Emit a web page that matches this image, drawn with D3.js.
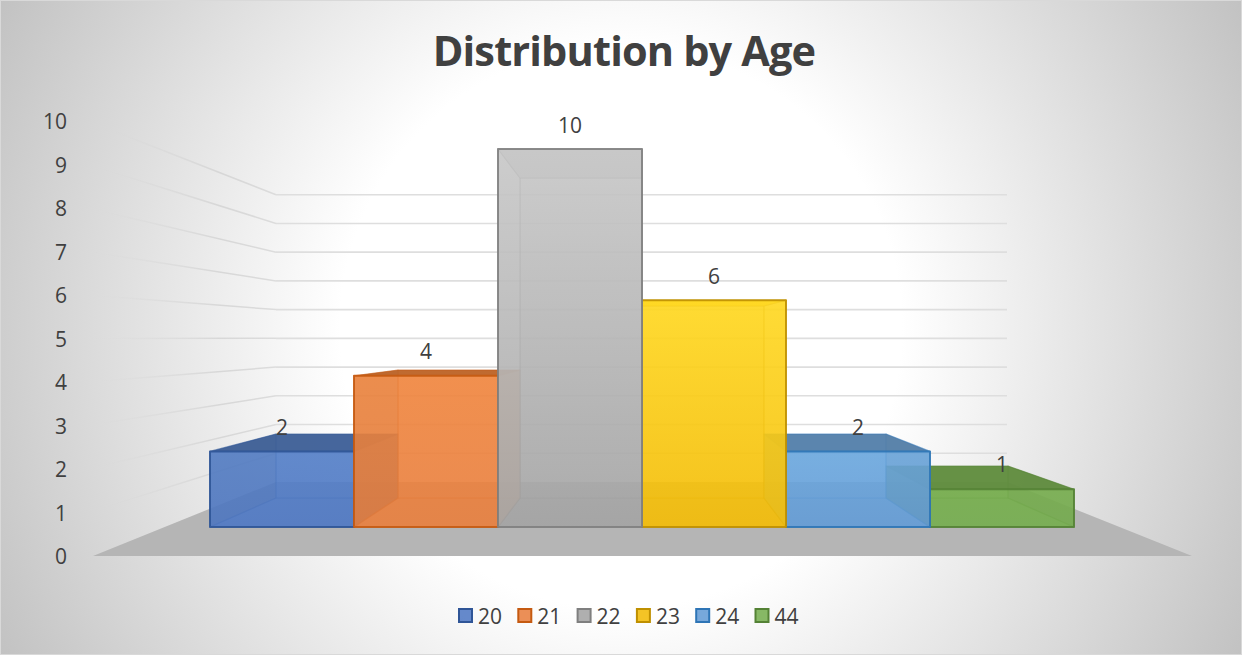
<!DOCTYPE html>
<html>
<head>
	<meta charset="utf-8">
	<script src="https://cdn.jsdelivr.net/npm/d3@7"></script>
	<style type="text/css">
		body { margin: 0; padding: 0; background: white; }
		svg { display: block; }
		text { font-family: "Open Sans", sans-serif; fill: #404040; }
	</style>
</head>
<body>
	<script type="text/javascript">

		// chart values
		var ages = ["20", "21", "22", "23", "24", "44"];
		var counts = [2, 4, 10, 6, 2, 1];
		var axisTicks = [0, 1, 2, 3, 4, 5, 6, 7, 8, 9, 10];
		var title = "Distribution by Age";

		// face colours of each bar
		var faceTop = ["#5580c8", "#f0863f", "#c8c8c8", "#ffd821", "#6ca8de", "#78b04e"];
		var faceBottom = ["#5079c4", "#e88040", "#a4a4a4", "#f3bc08", "#649cd6", "#76ae50"];
		var edge = ["#2f5597", "#c55a11", "#7f7f7f", "#bf9000", "#2e75b6", "#548235"];
		var capFill = ["#3f5f96", "#bb6428", "#c4c4c4", "#ffd822", "#557fa8", "#618c3f"];

		var width = 1242, height = 655;

		var svg = d3.select("body").append("svg")
			.attr("width", width)
			.attr("height", height);

		var defs = svg.append("defs");

		// background
		var bg = defs.append("radialGradient").attr("id", "bg")
			.attr("gradientUnits", "userSpaceOnUse")
			.attr("cx", width / 2).attr("cy", height / 2).attr("r", 702);
		bg.append("stop").attr("offset", "0.4").attr("stop-color", "#ffffff");
		bg.append("stop").attr("offset", "1").attr("stop-color", "#c2c2c2");

		svg.append("rect")
			.attr("x", 0.5).attr("y", 0.5)
			.attr("width", width - 1).attr("height", height - 1)
			.attr("fill", "url(#bg)")
			.attr("stroke", "#d9d9d9");

		// scales for the walls of the box
		var wallFront = d3.scaleLinear().domain([0, 10]).range([556, 121]);
		var wallBack = d3.scaleLinear().domain([0, 10]).range([482, 194.7]);

		// scales for the bars, front plane and back plane
		var xFront = d3.scaleBand().domain(ages).range([210, 1074]);
		var xBack = d3.scaleBand().domain(ages).range([276, 1008]);
		var yFront = d3.scaleLinear().domain([0, 10]).range([527, 149]);
		var yBack = d3.scaleLinear().domain([0, 10]).range([498, 178]);
		var yLabel = d3.scaleLinear().domain([0, 10]).range([502, 124.5]);

		// floor
		svg.append("polygon")
			.attr("points", [[93, wallFront(0)], [1192, wallFront(0)], [1007, wallBack(0)], [276, wallBack(0)]].join(" "))
			.attr("fill", "#b5b5b5");

		// fade for the gridlines on the left wall
		var fade = defs.append("linearGradient").attr("id", "fade")
			.attr("gradientUnits", "userSpaceOnUse")
			.attr("x1", 88).attr("x2", 276).attr("y1", 0).attr("y2", 0);
		fade.append("stop").attr("offset", "0").attr("stop-color", "#d9d9d9").attr("stop-opacity", 0);
		fade.append("stop").attr("offset", "0.7").attr("stop-color", "#d2d2d2").attr("stop-opacity", 0.8);
		fade.append("stop").attr("offset", "1").attr("stop-color", "#dcdcdc");

		// gridlines
		var grid = svg.append("g");
		grid.selectAll(".wall").data(axisTicks.slice(1)).enter().append("line")
			.attr("x1", 88).attr("y1", function(d){ return wallFront(d); })
			.attr("x2", 276).attr("y2", function(d){ return wallBack(d); })
			.attr("stroke", "url(#fade)")
			.attr("stroke-width", 1.5);
		grid.selectAll(".back").data(axisTicks.slice(1)).enter().append("line")
			.attr("x1", 276).attr("y1", function(d){ return wallBack(d); })
			.attr("x2", 1007).attr("y2", function(d){ return wallBack(d); })
			.attr("stroke", "#dedede")
			.attr("stroke-width", 1.6);

		// axis labels
		svg.append("g").selectAll("text").data(axisTicks).enter().append("text")
			.attr("x", 67)
			.attr("y", function(d){ return wallFront(d); })
			.attr("text-anchor", "end")
			.attr("dominant-baseline", "central")
			.style("font-size", "21px")
			.text(function(d){ return d; });

		// vertical gradient for front faces
		ages.forEach(function(a, i){
			var g = defs.append("linearGradient").attr("id", "front" + i)
				.attr("gradientUnits", "userSpaceOnUse")
				.attr("x1", 0).attr("x2", 0)
				.attr("y1", yFront(counts[i])).attr("y2", yFront(0));
			g.append("stop").attr("offset", "0").attr("stop-color", faceTop[i]);
			g.append("stop").attr("offset", "1").attr("stop-color", faceBottom[i]);
		});

		// one bar, back faces first
		function drawBar(i){
			var a = ages[i], v = counts[i];
			var fl = xFront(a), fr = fl + xFront.bandwidth();
			var bl = xBack(a), br = bl + xBack.bandwidth();
			var fb = yFront(0), ft = yFront(v);
			var bb = yBack(0), bt = yBack(v);
			var g = svg.append("g");

			function face(pts, fill, op, sw, so){
				g.append("polygon")
					.attr("points", pts.join(" "))
					.attr("fill", fill)
					.attr("fill-opacity", op)
					.attr("stroke", edge[i])
					.attr("stroke-opacity", so)
					.attr("stroke-width", sw)
					.attr("stroke-linejoin", "round");
			}

			// bottom, back, sides
			face([[fl, fb], [fr, fb], [br, bb], [bl, bb]], faceBottom[i], 0.6, 1.2, 0.35);
			face([[bl, bb], [br, bb], [br, bt], [bl, bt]], "url(#front" + i + ")", 0.6, 1.2, 0.35);
			face([[fl, fb], [bl, bb], [bl, bt], [fl, ft]], capFill[i], 0.55, 1.2, 0.35);
			face([[fr, fb], [br, bb], [br, bt], [fr, ft]], capFill[i], 0.55, 1.2, 0.35);
			// top
			face([[fl, ft], [fr, ft], [br, bt], [bl, bt]], capFill[i], 0.92, 1.2, 0.35);
			// front
			face([[fl, fb], [fr, fb], [fr, ft], [fl, ft]], "url(#front" + i + ")", 0.8, 2, 0.9);
		}

		// paint from the outside in, the middle bar goes last
		[0, 5, 1, 4, 3, 2].forEach(drawBar);

		// value labels
		svg.append("g").selectAll("text").data(counts).enter().append("text")
			.attr("x", function(d, i){ return xFront(ages[i]) + xFront.bandwidth() / 2; })
			.attr("y", function(d){ return yLabel(d); })
			.attr("text-anchor", "middle")
			.attr("dominant-baseline", "central")
			.style("font-size", "21px")
			.text(function(d){ return d; });

		// title
		svg.append("text")
			.attr("x", 624).attr("y", 66)
			.attr("text-anchor", "middle")
			.style("font-size", "41.5px")
			.style("font-weight", "700")
			.style("letter-spacing", "-0.85px")
			.text(title);

		// legend
		var xLegend = d3.scaleLinear().domain([0, ages.length]).range([458, 458 + 59.3 * ages.length]);
		var legend = svg.append("g").selectAll("g").data(ages).enter().append("g")
			.attr("transform", function(d, i){ return "translate(" + xLegend(i) + ",608)"; });
		legend.append("rect")
			.attr("x", 1).attr("y", 1)
			.attr("width", 13).attr("height", 13)
			.attr("fill", function(d, i){ return faceBottom[i]; })
			.attr("fill-opacity", 0.88)
			.attr("stroke", function(d, i){ return edge[i]; })
			.attr("stroke-width", 2);
		legend.append("text")
			.attr("x", 20).attr("y", 8)
			.attr("dominant-baseline", "central")
			.style("font-size", "21px")
			.text(function(d){ return d; });

	</script>
</body>
</html>
